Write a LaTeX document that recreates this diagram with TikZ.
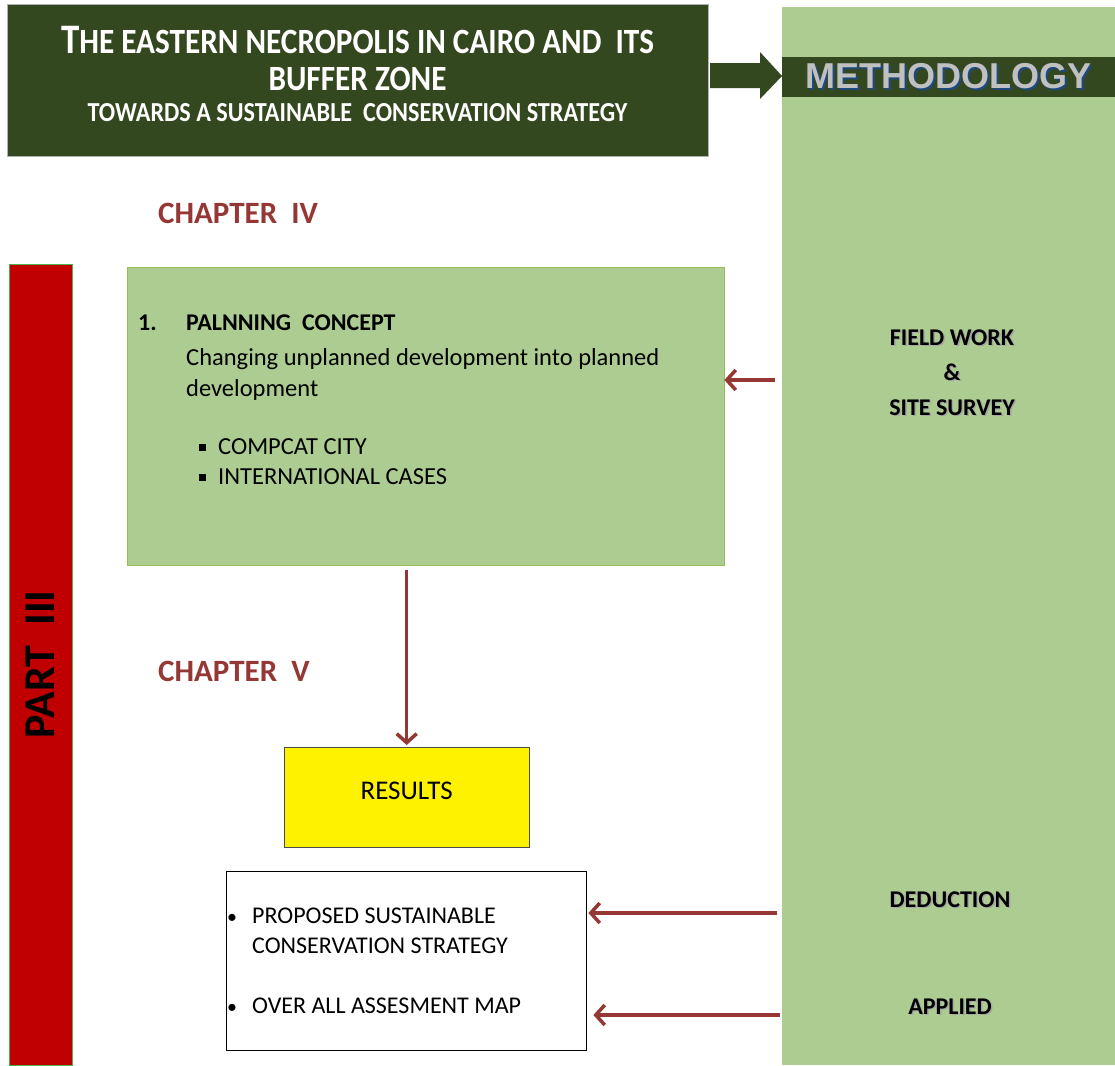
\documentclass[tikz,border=0pt]{standalone}
\usepackage{fontspec}
\setmainfont{Carlito}
\newfontfamily\arialfont{Liberation Sans}
\newfontfamily\titlefont[FakeStretch=0.88]{Carlito}
\usepackage{tikz}
\usetikzlibrary{arrows.meta}

\definecolor{darkolive}{RGB}{52,72,32}
\definecolor{lightolive}{RGB}{173,204,146}
\definecolor{oliveline}{RGB}{155,187,89}
\definecolor{brickred}{RGB}{149,55,53}
\definecolor{barred}{RGB}{192,0,0}
\definecolor{methgray}{RGB}{192,192,192}
\definecolor{shadowblue}{RGB}{31,73,125}

\newcommand{\shadowed}[2]{\rlap{\kern1.5pt\raisebox{-1.5pt}{\color{#1}#2}}#2}

\begin{document}
\begin{tikzpicture}[x=1pt,y=-1pt,
  box/.style={rectangle,inner sep=0pt,anchor=north west},
  link/.style={draw=brickred,line width=3.5pt,-{Straight Barb[length=9pt,width=20pt]}},
  chapter/.style={anchor=west,inner sep=0pt,text=brickred,font=\fontsize{31}{36}\selectfont\bfseries},
  methtext/.style={align=center,font=\fontsize{24}{35}\selectfont\bfseries}]
  %\draw[very thin,color=gray] (0,0) grid[step=50] (1115,1065);
  \useasboundingbox (0,0) rectangle (1115,1065);
  \fill[white] (0,0) rectangle (1115,1065);

  % methodology column
  \node[box,fill=lightolive,minimum width=333pt,minimum height=1058pt] (method) at (782,7) {};
  \node[box,fill=darkolive,minimum width=333pt,minimum height=40pt,text=methgray,
        font=\arialfont\bfseries\fontsize{36}{40}\selectfont] (methband) at (782,57) {\shadowed{shadowblue}{METHODOLOGY}};

  % title
  \node[box,fill=darkolive,draw=gray!60,minimum width=701pt,minimum height=152pt] (title) at (7,4) {};
  \node[anchor=base,align=center,text=white,font=\titlefont\bfseries\fontsize{35.5}{37}\selectfont] (titletext) at (357.5,121)
    {{\fontsize{42}{37}\selectfont T}HE EASTERN NECROPOLIS IN CAIRO AND\ \ ITS\\
     BUFFER ZONE\\[-6pt]
     {\fontsize{27.5}{31}\selectfont TOWARDS A SUSTAINABLE\ \ CONSERVATION STRATEGY}};
  \fill[darkolive] (710,63) -- (760,63) -- (760,52) -- (782,76) -- (760,99) -- (760,88) -- (710,88) -- cycle;

  \node[chapter] (ch4) at (158,213) {CHAPTER\ \ IV};
  \node[chapter] (ch5) at (158,671) {CHAPTER\ \ V};

  % part bar
  \node[fill=barred,draw=gray!60!green,rotate=90,minimum width=801pt,minimum height=63pt,inner sep=0pt,
        font=\fontsize{44}{48}\selectfont\bfseries] (part) at (40.5,664.5) {PART\ \ III};

  % planning concept
  \node[box,fill=lightolive,draw=oliveline,minimum width=597pt,minimum height=298pt] (concept) at (127,267) {};
  \node[anchor=base west,inner sep=0pt,font=\fontsize{24.5}{30}\selectfont] (concepttext) at (138,330)
    {\begin{tabular}[t]{@{}p{48pt}@{}l@{}}
     \textbf{\fontsize{24}{30}\selectfont 1.} & \textbf{\fontsize{24}{30}\selectfont PALNNING\ \ CONCEPT}\\[5pt]
     & Changing unplanned development into planned\\[1pt]
     & development\\[28pt]
     & \hspace{13pt}\rule[3.5pt]{7pt}{7pt}\hspace{12pt}COMPCAT CITY\\
     & \hspace{13pt}\rule[3.5pt]{7pt}{7pt}\hspace{12pt}INTERNATIONAL CASES
     \end{tabular}};

  \node[box,fill=yellow,draw=black!70,minimum width=245pt,minimum height=100pt,text height=17pt,text depth=12pt,
        font=\fontsize{27}{30}\selectfont] (results) at (284,747) {RESULTS};

  \node[box,fill=white,draw=black,minimum width=360pt,minimum height=179pt] (strategy) at (226,871) {};
  \node[anchor=base west,inner sep=0pt,font=\fontsize{24}{30}\selectfont] (strattext) at (227,923)
    {\begin{tabular}[t]{@{}p{25pt}@{}l@{}}
     {\fontsize{20}{20}\selectfont\textbullet} & PROPOSED SUSTAINABLE\\
     & CONSERVATION STRATEGY\\[30pt]
     {\fontsize{20}{20}\selectfont\textbullet} & OVER ALL ASSESMENT MAP
     \end{tabular}};

  % methodology labels
  \node[methtext] (field) at (952,373) {\shadowed{black!35}{FIELD WORK}\\ \shadowed{black!35}{\&}\\ \shadowed{black!35}{SITE SURVEY}};
  \node[methtext] (deduct) at (950,900) {\shadowed{black!35}{DEDUCTION}};
  \node[methtext] (applied) at (950,1007) {\shadowed{black!35}{APPLIED}};

  % connectors
  \coordinate (fwtail) at (775,380);
  \coordinate (dedtail) at (777,913);
  \coordinate (apptail) at (780,1015);
  \draw[link] (fwtail) -- (concept.east |- fwtail);
  \draw[link,shorten >=2pt] ([yshift=-5pt]results.north |- concept.south) -- (results.north);
  \draw[link] (dedtail) -- ([xshift=2pt]strategy.east |- dedtail);
  \draw[link] (apptail) -- ([xshift=7pt]strategy.east |- apptail);
\end{tikzpicture}
\end{document}
